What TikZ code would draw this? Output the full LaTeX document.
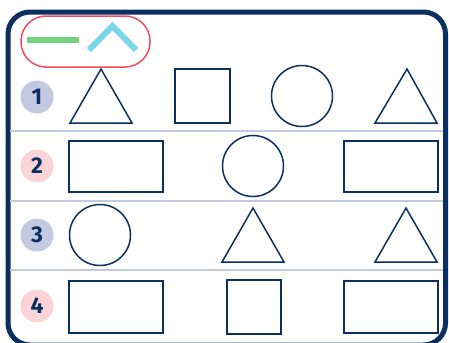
\documentclass[tikz,border=0pt]{standalone}
\usepackage{fontspec}
\setmainfont{Fira Sans}
\usepackage{tikz}
\usetikzlibrary{positioning}

\definecolor{navy}{HTML}{0B2F60}
\definecolor{lav}{HTML}{C4C9E2}
\definecolor{pinkish}{HTML}{FCD4D8}
\definecolor{redline}{HTML}{EF4A5E}
\definecolor{greenbar}{HTML}{74D47E}
\definecolor{cyanmark}{HTML}{7AD6EA}

\begin{document}
\begin{tikzpicture}[x=0.02cm, y=-0.02cm,
    outline/.style={draw=navy, line width=1.5*0.02cm},
    num/.style={circle, minimum size=33*0.02cm, inner sep=0pt, text=navy,
        font=\fontsize{13}{13}\selectfont\bfseries},
    sep/.style={draw=lav, line width=2*0.02cm}]
    \useasboundingbox (0,0) rectangle (449,342);
    % frame (bottom edge runs past the page)
    \begin{scope}
        \clip (0,0) rectangle (449,342);
        \draw[navy, line width=5*0.02cm, rounded corners=22*0.02cm] (8,12) rectangle (445.5,345);
    \end{scope}
    % legend
    \draw[redline, line width=1.5*0.02cm, rounded corners=25*0.02cm] (21,16) rectangle (150,67);
    \draw[greenbar, line width=6*0.02cm] (27,40) -- (79,40);
    \draw[cyanmark, line width=6*0.02cm] (89,50) -- (112.5,26) -- (136,50);
    % row separators
    \draw[sep] (10,131) -- (443,131);
    \draw[sep] (10,201) -- (443,201);
    \draw[sep] (10,270) -- (443,270);
    % row numbers
    \node[num, fill=lav] (n1) at (37,97) {1};
    \node[num, fill=pinkish] (n2) at (37,166) {2};
    \node[num, fill=lav] (n3) at (37,235) {3};
    \node[num, fill=pinkish] (n4) at (37,306) {4};
    % row 1
    \draw[outline] (101,69) -- (132,123) -- (70,123) -- cycle;
    \draw[outline] (175,69) rectangle (230,123);
    \draw[outline] (302,96) circle (30.5);
    \draw[outline] (407,69) -- (437,123) -- (375,123) -- cycle;
    % row 2
    \draw[outline] (69,141) rectangle (163,192);
    \draw[outline] (253,166) circle (30.5);
    \draw[outline] (344,141) rectangle (438,192);
    % row 3
    \draw[outline] (100,235) circle (30.5);
    \draw[outline] (253,208) -- (284,262) -- (222,262) -- cycle;
    \draw[outline] (406,208) -- (437,262) -- (375,262) -- cycle;
    % row 4
    \draw[outline] (69,281) rectangle (163,333);
    \draw[outline] (227,280) rectangle (281,334);
    \draw[outline] (344,281) rectangle (438,333);
\end{tikzpicture}
\end{document}
